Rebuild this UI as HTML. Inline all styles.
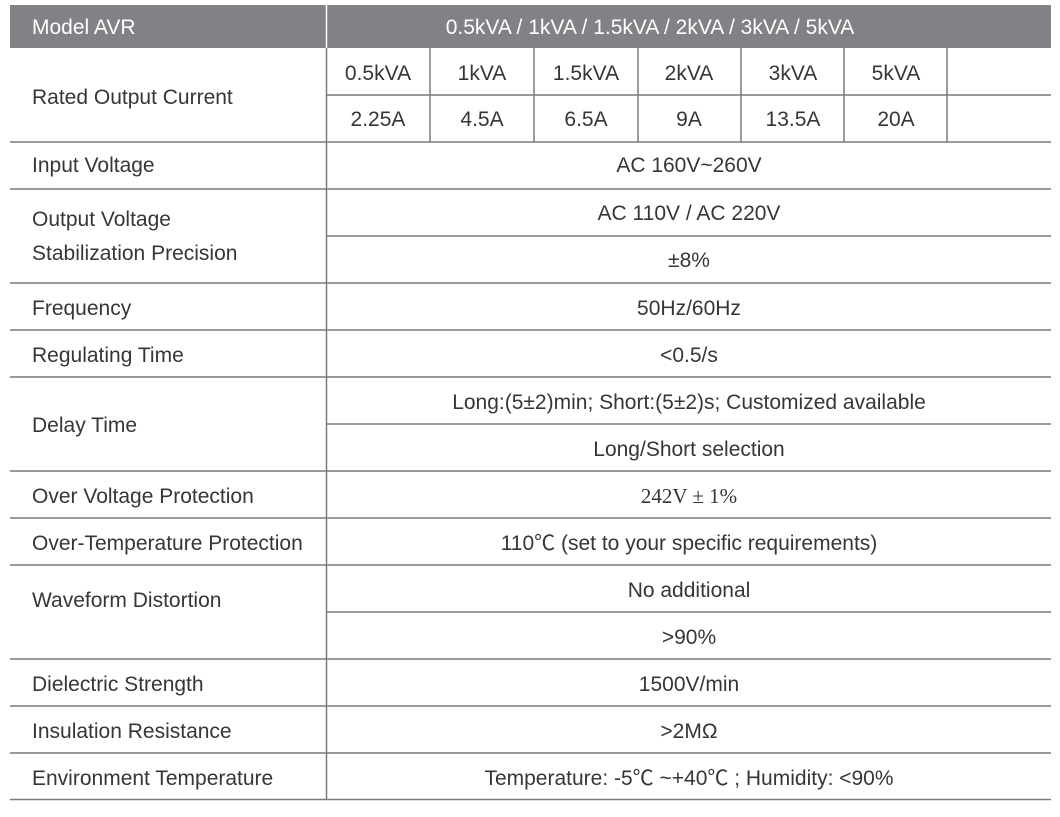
<!DOCTYPE html>
<html><head><meta charset="utf-8"><style>
html,body{margin:0;padding:0;background:#fff;}
svg{display:block;}
text{font-family:"Liberation Sans","Noto Sans CJK SC",sans-serif;font-size:21px;fill:#363636;}
.c{text-anchor:middle;}
.h{fill:#fff;}
</style></head><body>
<svg width="1060" height="817" viewBox="0 0 1060 817" xmlns="http://www.w3.org/2000/svg">
<rect x="10" y="5" width="1041" height="43" fill="#808285"/>
<line x1="326.5" y1="5" x2="326.5" y2="48" stroke="#fff" stroke-width="1.5"/>
<text class="h" x="32" y="34">Model AVR</text>
<text class="h c" x="650" y="34">0.5kVA / 1kVA / 1.5kVA / 2kVA / 3kVA / 5kVA</text>
<g stroke="#7a7a7a" stroke-width="1.5">
<line x1="10" y1="142" x2="1051" y2="142"/>
<line x1="10" y1="189" x2="1051" y2="189"/>
<line x1="10" y1="283" x2="1051" y2="283"/>
<line x1="10" y1="330" x2="1051" y2="330"/>
<line x1="10" y1="377" x2="1051" y2="377"/>
<line x1="10" y1="471" x2="1051" y2="471"/>
<line x1="10" y1="518" x2="1051" y2="518"/>
<line x1="10" y1="565" x2="1051" y2="565"/>
<line x1="10" y1="659" x2="1051" y2="659"/>
<line x1="10" y1="706" x2="1051" y2="706"/>
<line x1="10" y1="753" x2="1051" y2="753"/>
<line x1="10" y1="799.5" x2="1051" y2="799.5"/>
<line x1="326" y1="95" x2="1051" y2="95"/>
<line x1="326" y1="236" x2="1051" y2="236"/>
<line x1="326" y1="424" x2="1051" y2="424"/>
<line x1="326" y1="612" x2="1051" y2="612"/>
<line x1="326.5" y1="48" x2="326.5" y2="800"/>
<line x1="430" y1="48" x2="430" y2="142"/>
<line x1="534" y1="48" x2="534" y2="142"/>
<line x1="638" y1="48" x2="638" y2="142"/>
<line x1="741" y1="48" x2="741" y2="142"/>
<line x1="844" y1="48" x2="844" y2="142"/>
<line x1="947" y1="48" x2="947" y2="142"/>
</g>
<text x="32" y="104">Rated Output Current</text>
<text class="c" x="378" y="80">0.5kVA</text>
<text class="c" x="482" y="80">1kVA</text>
<text class="c" x="586" y="80">1.5kVA</text>
<text class="c" x="689" y="80">2kVA</text>
<text class="c" x="793" y="80">3kVA</text>
<text class="c" x="896" y="80">5kVA</text>
<text class="c" x="378" y="126">2.25A</text>
<text class="c" x="482" y="126">4.5A</text>
<text class="c" x="586" y="126">6.5A</text>
<text class="c" x="689" y="126">9A</text>
<text class="c" x="793" y="126">13.5A</text>
<text class="c" x="896" y="126">20A</text>
<text x="32" y="172">Input Voltage</text>
<text class="c" x="689" y="172">AC 160V~260V</text>
<text x="32" y="226">Output Voltage</text>
<text x="32" y="260">Stabilization Precision</text>
<text class="c" x="689" y="220">AC 110V / AC 220V</text>
<text class="c" x="689" y="267">±8%</text>
<text x="32" y="315">Frequency</text>
<text class="c" x="689" y="315">50Hz/60Hz</text>
<text x="32" y="362">Regulating Time</text>
<text class="c" x="689" y="362">&lt;0.5/s</text>
<text x="32" y="432">Delay Time</text>
<text class="c" x="689" y="409">Long:(5±2)min; Short:(5±2)s;  Customized available</text>
<text class="c" x="689" y="456">Long/Short selection</text>
<text x="32" y="503">Over Voltage Protection</text>
<text class="c" x="689" y="503" style="font-family:'Liberation Serif',serif;font-size:21px">242V ± 1%</text>
<text x="32" y="550">Over-Temperature Protection</text>
<text class="c" x="689" y="550">110℃ (set to your specific requirements)</text>
<text x="32" y="607">Waveform Distortion</text>
<text class="c" x="689" y="597">No additional</text>
<text class="c" x="689" y="644">&gt;90%</text>
<text x="32" y="691">Dielectric Strength</text>
<text class="c" x="689" y="691">1500V/min</text>
<text x="32" y="738">Insulation Resistance</text>
<text class="c" x="689" y="738">&gt;2MΩ</text>
<text x="32" y="785">Environment Temperature</text>
<text class="c" x="689" y="785">Temperature: -5℃ ~+40℃ ; Humidity: &lt;90%</text>
</svg>
</body></html>
